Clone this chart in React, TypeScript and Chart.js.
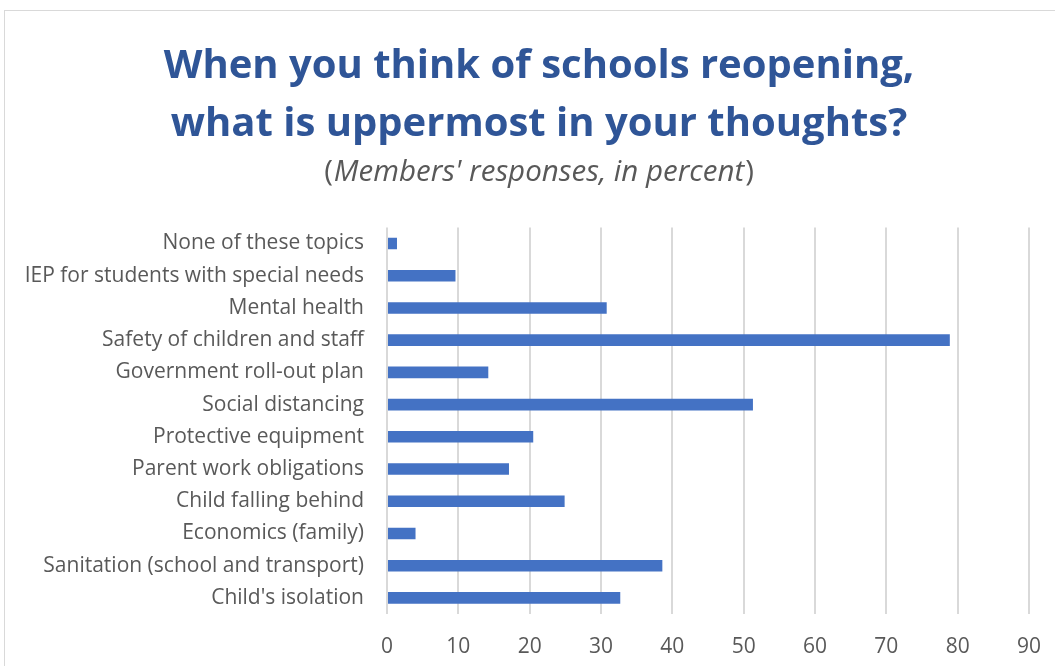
import React, { useEffect, useRef } from "react";
import { Chart, registerables } from "chart.js";

Chart.register(...registerables);

const categories: string[] = [
  "None of these topics",
  "IEP for students with special needs",
  "Mental health",
  "Safety of children and staff",
  "Government roll-out plan",
  "Social distancing",
  "Protective equipment",
  "Parent work obligations",
  "Child falling behind",
  "Economics (family)",
  "Sanitation (school and transport)",
  "Child's isolation",
];

const responses: number[] = [1.4, 9.6, 30.8, 78.9, 14.2, 51.3, 20.5, 17.1, 24.9, 4.0, 38.6, 32.7];

const titleLines: string[] = [
  "When you think of schools reopening,",
  "what is uppermost in your thoughts?",
];
const subtitleOpen = "(";
const subtitleInner = "Members' responses, in percent";
const subtitleClose = ")";

const xMin = 0;
const xMax = 90;
const xStep = 10;

const FONT = "'Open Sans'";
const SUB_SIZE = 29.5;
const SUB_LH = 1.2;
const PAD_LEFT = 49;
const PAD_RIGHT = 26;

const mixedSubtitle = {
  id: "mixedSubtitle",
  afterLayout(chart: any) {
    const y = chart.scales.y;
    if (y) y.left = 0;
  },
  afterDraw(chart: any) {
    const tb = chart.titleBlock;
    if (!tb) return;
    const ctx = chart.ctx;
    ctx.save();
    ctx.fillStyle = "#595959";
    ctx.textBaseline = "middle";
    ctx.textAlign = "left";
    const regular = `normal ${SUB_SIZE}px ${FONT}`;
    const italic = `italic ${SUB_SIZE}px ${FONT}`;
    ctx.font = regular;
    const wOpen = ctx.measureText(subtitleOpen).width;
    const wClose = ctx.measureText(subtitleClose).width;
    ctx.font = italic;
    const wInner = ctx.measureText(subtitleInner).width;
    const total = wOpen + wInner + wClose + 2;
    const cx = (tb.left + tb.right) / 2;
    const cy = tb.bottom + (SUB_SIZE * SUB_LH) / 2 + 1;
    let x = cx - total / 2;
    ctx.font = regular;
    ctx.fillText(subtitleOpen, x, cy);
    x += wOpen + 1;
    ctx.font = italic;
    ctx.fillText(subtitleInner, x, cy);
    x += wInner + 1;
    ctx.font = regular;
    ctx.fillText(subtitleClose, x, cy);
    ctx.restore();
  },
};

export default function App() {
  const canvasRef = useRef<HTMLCanvasElement | null>(null);

  useEffect(() => {
    document.body.style.margin = "0";
    const canvas = canvasRef.current;
    if (!canvas) return;
    const chart = new Chart(canvas, {
      type: "bar",
      data: {
        labels: categories,
        datasets: [
          {
            data: responses,
            backgroundColor: "#4472C4",
            borderWidth: 0,
            categoryPercentage: 0.9,
            barPercentage: 0.4,
          },
        ],
      },
      plugins: [mixedSubtitle],
      options: {
        indexAxis: "y",
        responsive: false,
        animation: false,
        layout: { padding: { top: 10, right: PAD_RIGHT, bottom: 0, left: PAD_LEFT } },
        plugins: {
          legend: { display: false },
          tooltip: { enabled: false },
          title: {
            display: true,
            text: titleLines,
            color: "#2F5597",
            font: { family: FONT, size: 40, weight: "bold", lineHeight: 1.45 },
            padding: { top: 28, bottom: 0 },
          },
          subtitle: {
            display: true,
            text: subtitleInner,
            color: "rgba(0,0,0,0)",
            font: { family: FONT, size: SUB_SIZE, style: "italic", lineHeight: SUB_LH },
            padding: { top: 0, bottom: 38 },
          },
        },
        scales: {
          x: {
            min: xMin,
            max: xMax,
            ticks: {
              stepSize: xStep,
              color: "#595959",
              font: { family: FONT, size: 21 },
              padding: 20,
            },
            grid: { color: "#d9d9d9", lineWidth: 2, drawTicks: false },
            border: { display: false },
            afterFit: (scale: any) => {
              scale.height = 52;
              scale.paddingLeft = 0;
              scale.paddingRight = 0;
            },
          },
          y: {
            ticks: {
              color: "#595959",
              font: { family: FONT, size: 21 },
              padding: 23,
            },
            grid: { display: false, drawTicks: false },
            border: { display: false },
            afterFit: (scale: any) => {
              scale.width = 387 - PAD_LEFT;
              scale.paddingTop = 0;
              scale.paddingBottom = 0;
            },
          },
        },
      },
    });
    return () => chart.destroy();
  }, []);

  return (
    <div style={{ position: "relative", width: 1055, height: 666, overflow: "hidden", background: "#fff" }}>
      <div
        style={{
          position: "absolute",
          left: 4,
          top: 10,
          width: 1100,
          height: 700,
          border: "1px solid #d9d9d9",
        }}
      />
      <canvas ref={canvasRef} width={1055} height={666} style={{ position: "absolute", left: 0, top: 0 }} />
    </div>
  );
}
